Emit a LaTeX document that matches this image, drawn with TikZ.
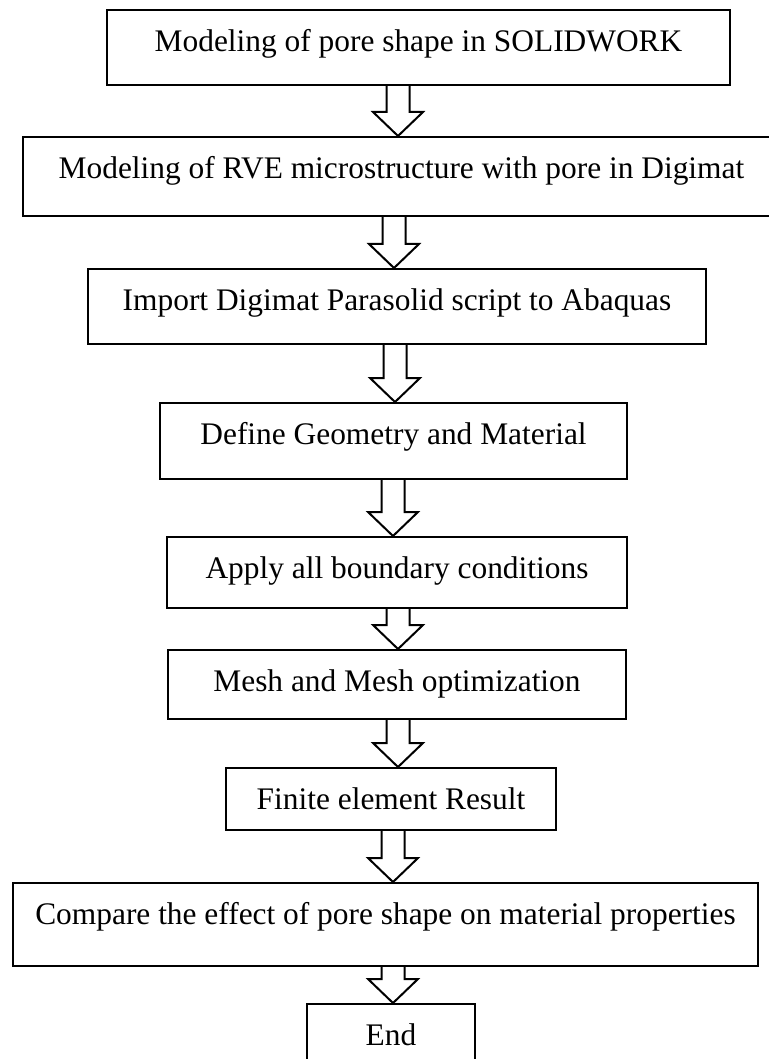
\documentclass[tikz,border=0pt]{standalone}
\usepackage{fontspec}
\setmainfont{Liberation Serif}
\usetikzlibrary{calc}

\tikzset{
	flowbox/.style={draw, line width=2.2pt, anchor=north, inner xsep=0pt,
		inner ysep=0pt, text height=41pt, font=\fontsize{31.4}{36}\selectfont},
	flowarrow/.style={draw, line width=2pt, line join=miter},
}
% Blockpfeil von Kasten #1 nach Kasten #2, Mitte bei x = #3
\newcommand{\blockarrow}[3]{%
	\draw[flowarrow] let \p1=(#1.south), \p2=(#2.north) in
		(#3pt-11.5pt,\y1) -- (#3pt-11.5pt,\y2+24pt) -- (#3pt-25pt,\y2+24pt)
		-- (#3pt,\y2) -- (#3pt+25pt,\y2+24pt) -- (#3pt+11.5pt,\y2+24pt)
		-- (#3pt+11.5pt,\y1);
}

\begin{document}
\begin{tikzpicture}[x=1pt, y=-1pt]
	\useasboundingbox (0,0) rectangle (768,1059);
	% Arbeitsschritte
	\node[flowbox, minimum width=623pt, text depth=34pt] (pore) at (418.5,9)
		{Modeling of pore shape in SOLIDWORK};
	\node[flowbox, minimum width=757pt, text depth=38pt] (rve) at (401.5,136)
		{Modeling of RVE microstructure with pore in Digimat};
	\node[flowbox, minimum width=618pt, text depth=34pt] (import) at (397,268)
		{Import Digimat Parasolid script to Abaquas};
	\node[flowbox, minimum width=467pt, text depth=35pt] (geom) at (393.5,402)
		{Define Geometry and Material};
	\node[flowbox, minimum width=460pt, text depth=30pt] (bc) at (397,536)
		{Apply all boundary conditions};
	\node[flowbox, minimum width=458pt, text depth=28pt] (mesh) at (397,649)
		{Mesh and Mesh optimization};
	\node[flowbox, minimum width=330pt, text depth=21pt] (fe) at (391,767)
		{Finite element Result};
	\node[flowbox, minimum width=745pt, text depth=42pt] (compare) at (385.5,882)
		{Compare the effect of pore shape on material properties};
	\node[flowbox, minimum width=168pt, text depth=28pt] (finish) at (391,1003)
		{End};
	% Pfeile
	\foreach \fa/\fb/\fx in {pore/rve/398, rve/import/394, import/geom/395,
		geom/bc/393, bc/mesh/398, mesh/fe/398, fe/compare/393,
		compare/finish/393}
		\blockarrow{\fa}{\fb}{\fx};
\end{tikzpicture}
\end{document}
